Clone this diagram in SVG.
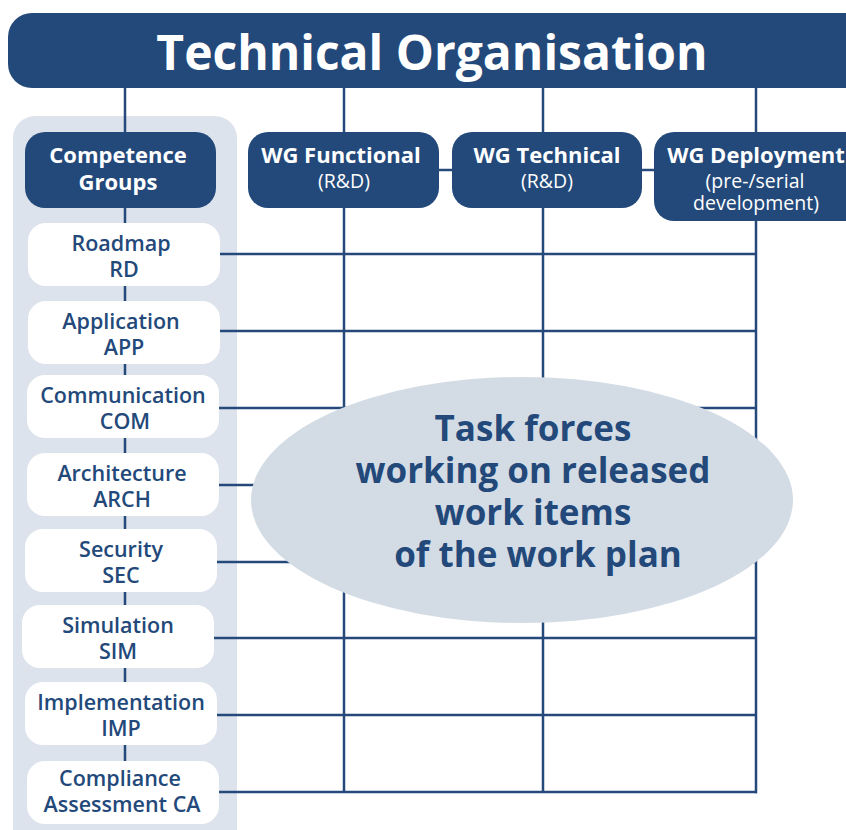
<svg xmlns="http://www.w3.org/2000/svg" width="846" height="830" viewBox="0 0 846 830">
<style>
.dark{fill:#23497a}
.wbox{fill:#ffffff}
.ln{stroke:#24497a;stroke-width:2.5;fill:none}
.t{font-family:"Open Sans","Noto Sans","Liberation Sans",sans-serif;text-anchor:middle}
.lbl{font-size:21.5px;font-weight:600;fill:#23497a}
.wg{font-size:22px;font-weight:700;fill:#ffffff}
.sub{font-size:19.5px;font-weight:400;fill:#ffffff}
.el{font-size:35px;font-weight:700;fill:#23497a}
</style>
<rect x="13" y="116" width="224" height="740" rx="22" fill="#dde3ec"/>
<g id="connectors">
<line class="ln" x1="125" y1="88" x2="125" y2="790"/>
<line class="ln" x1="344" y1="88" x2="344" y2="132"/>
<line class="ln" x1="543" y1="88" x2="543" y2="132"/>
<line class="ln" x1="756" y1="88" x2="756" y2="132"/>
<line class="ln" x1="439" y1="170" x2="452" y2="170"/>
<line class="ln" x1="642" y1="170" x2="654" y2="170"/>
<line class="ln" x1="344" y1="208" x2="344" y2="792"/>
<line class="ln" x1="543" y1="208" x2="543" y2="792"/>
<line class="ln" x1="756" y1="221" x2="756" y2="793.2"/>
<line class="ln" x1="220" y1="254" x2="757" y2="254"/>
<line class="ln" x1="220" y1="331" x2="757" y2="331"/>
<line class="ln" x1="219" y1="408" x2="757" y2="408"/>
<line class="ln" x1="219" y1="485" x2="757" y2="485"/>
<line class="ln" x1="217" y1="562" x2="757" y2="562"/>
<line class="ln" x1="214" y1="638" x2="757" y2="638"/>
<line class="ln" x1="217" y1="715" x2="757" y2="715"/>
<line class="ln" x1="219" y1="792" x2="757" y2="792"/>
</g>
<g id="title">
<rect class="dark" x="8" y="13" width="860" height="75" rx="24"/>
<text class="t" x="432" y="70" font-size="48" font-weight="700" fill="#ffffff">Technical Organisation</text>
</g>
<g id="competence">
<rect class="dark" x="25" y="132" width="191" height="76" rx="20"/>
<text class="t wg" x="118" y="163">Competence</text>
<text class="t wg" x="118" y="190">Groups</text>
</g>
<g id="wg-functional">
<rect class="dark" x="248" y="132" width="191" height="76" rx="20"/>
<text class="t wg" x="341" y="163">WG Functional</text>
<text class="t sub" x="344" y="188">(R&amp;D)</text>
</g>
<g id="wg-technical">
<rect class="dark" x="452" y="132" width="190" height="76" rx="20"/>
<text class="t wg" x="547" y="163">WG Technical</text>
<text class="t sub" x="547" y="188">(R&amp;D)</text>
</g>
<g id="wg-deployment">
<rect class="dark" x="654" y="132" width="210" height="89" rx="20"/>
<text class="t wg" x="756" y="163">WG Deployment</text>
<text class="t sub" x="755" y="188">(pre-/serial</text>
<text class="t sub" x="756" y="210">development)</text>
</g>
<g id="rd">
<rect class="wbox" x="28" y="223" width="192" height="63" rx="18"/>
<text class="t lbl" x="121" y="251">Roadmap</text>
<text class="t lbl" x="124" y="277">RD</text>
</g>
<g id="app">
<rect class="wbox" x="28" y="301" width="192" height="63" rx="18"/>
<text class="t lbl" x="121" y="329">Application</text>
<text class="t lbl" x="124" y="355">APP</text>
</g>
<g id="com">
<rect class="wbox" x="27" y="375" width="192" height="63" rx="18"/>
<text class="t lbl" x="123" y="403">Communication</text>
<text class="t lbl" x="125" y="429">COM</text>
</g>
<g id="arch">
<rect class="wbox" x="27" y="453" width="192" height="63" rx="18"/>
<text class="t lbl" x="122" y="481">Architecture</text>
<text class="t lbl" x="122" y="507">ARCH</text>
</g>
<g id="sec">
<rect class="wbox" x="25" y="529" width="192" height="63" rx="18"/>
<text class="t lbl" x="121" y="557">Security</text>
<text class="t lbl" x="121" y="583">SEC</text>
</g>
<g id="sim">
<rect class="wbox" x="22" y="605" width="192" height="63" rx="18"/>
<text class="t lbl" x="118" y="633">Simulation</text>
<text class="t lbl" x="118" y="659">SIM</text>
</g>
<g id="imp">
<rect class="wbox" x="25" y="682" width="192" height="63" rx="18"/>
<text class="t lbl" x="121" y="710">Implementation</text>
<text class="t lbl" x="121" y="736">IMP</text>
</g>
<g id="ca">
<rect class="wbox" x="27" y="761" width="192" height="63" rx="18"/>
<text class="t lbl" x="120" y="786">Compliance</text>
<text class="t lbl" x="122" y="812">Assessment CA</text>
</g>
<g id="taskforces">
<ellipse cx="522" cy="500" rx="271" ry="123" fill="#d3dce5"/>
<text class="t el" x="533" y="441">Task forces</text>
<text class="t el" x="533" y="483">working on released</text>
<text class="t el" x="533" y="525">work items</text>
<text class="t el" x="538" y="567">of the work plan</text>
</g>
</svg>
